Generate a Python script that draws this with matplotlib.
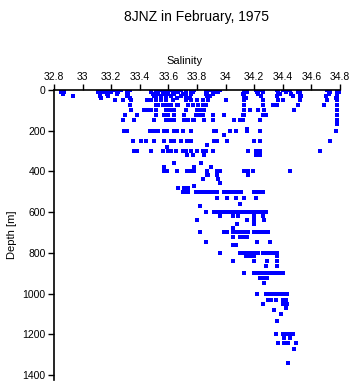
import matplotlib
matplotlib.use("Agg")
import matplotlib.pyplot as plt
import numpy as np

plt.rcParams['font.family'] = ['Liberation Sans', 'DejaVu Sans']

# depth levels [m] and the salinities observed at each level
depths = [0, 10, 20, 30, 40, 50, 75, 100, 125, 150, 170, 190, 200, 220, 250,
          270, 280, 300, 320, 360, 380, 400, 420, 440, 455, 470, 480, 500,
          530, 560, 570, 600, 620, 640, 660, 680, 700, 720, 745, 760, 800,
          815, 840, 865, 900, 925, 950, 1000, 1030, 1050, 1070, 1080, 1100,
          1135, 1200, 1220, 1245, 1270, 1340]

salinity = [
    [32.85, 32.86, 33.11, 33.13, 33.16, 33.18, 33.23, 33.27, 33.31, 33.33, 33.48, 33.51, 33.55,
     33.58, 33.62, 33.65, 33.69, 33.76, 33.78, 33.86, 33.90, 33.93, 33.96, 34.14, 34.21, 34.24,
     34.36, 34.40, 34.45, 34.52, 34.71, 34.78],
    [32.85, 32.87, 33.11, 33.14, 33.20, 33.25, 33.31, 33.48, 33.52, 33.56, 33.59, 33.63, 33.67,
     33.72, 33.77, 33.87, 33.92, 33.95, 34.13, 34.15, 34.22, 34.26, 34.37, 34.42, 34.51, 34.73, 34.79],
    [32.86, 33.12, 33.17, 33.24, 33.32, 33.49, 33.53, 33.57, 33.60, 33.64, 33.70, 33.76, 33.86,
     33.91, 34.12, 34.23, 34.38, 34.46, 34.52, 34.72, 34.78],
    [32.93, 33.12, 33.18, 33.31, 33.50, 33.55, 33.62, 33.69, 33.72, 33.87, 33.89, 34.13, 34.25,
     34.36, 34.47, 34.53, 34.70, 34.78],
    [33.13, 33.33, 33.51, 33.58, 33.66, 33.75, 33.88, 34.14, 34.52, 34.77],
    [33.23, 33.28, 33.34, 33.45, 33.48, 33.51, 33.55, 33.58, 33.63, 33.72, 33.76, 33.80, 33.84,
     33.88, 34.00, 34.13, 34.26, 34.37, 34.40, 34.52, 34.71, 34.78],
    [33.33, 33.51, 33.53, 33.56, 33.59, 33.62, 33.66, 33.67, 33.74, 33.77, 33.81, 33.84, 33.86,
     34.13, 34.26, 34.33, 34.36, 34.51, 34.69, 34.78],
    [33.34, 33.43, 33.45, 33.48, 33.51, 33.58, 33.61, 33.64, 33.72, 33.80, 33.83, 33.85, 34.13,
     34.17, 34.23, 34.27, 34.48, 34.78],
    [33.30, 33.38, 33.51, 33.57, 33.60, 33.64, 33.71, 33.79, 33.82, 33.84, 33.91, 33.99, 34.12,
     34.13, 34.26, 34.28, 34.78],
    [33.28, 33.36, 33.50, 33.58, 33.61, 33.64, 33.71, 33.74, 33.77, 33.78, 33.85, 33.91, 34.06,
     34.10, 34.12, 34.24, 34.78],
    [34.78],
    [34.15],
    [33.29, 33.31, 33.47, 33.50, 33.53, 33.57, 33.59, 33.64, 33.66, 33.70,
     33.76, 33.92, 33.93, 34.03, 34.07, 34.15, 34.24, 34.77],
    [33.99],
    [33.35, 33.41, 33.44, 33.50, 33.57, 33.62, 33.64, 33.69, 33.73, 33.76,
     33.92, 33.94, 34.01, 34.20, 34.24, 34.73],
    [33.87],
    [33.59],
    [33.36, 33.38, 33.48, 33.56, 33.60, 33.62, 33.65, 33.70, 33.72, 33.76,
     33.80, 33.84, 33.86, 33.91, 34.16, 34.21, 34.24, 34.66],
    [33.73, 33.77, 33.85, 34.21, 34.24],
    [33.64, 33.83],
    [33.57, 33.78, 33.90],
    [33.57, 33.59, 33.66, 33.73, 33.75, 33.77, 33.78, 33.87, 33.94, 33.96, 34.13, 34.16, 34.19, 34.45],
    [33.87, 33.88, 33.94, 34.16],
    [33.84, 33.95],
    [33.96],
    [33.78],
    [33.67, 33.71, 33.74],
    [33.70, 33.71, 33.74, 33.79, 33.80, 33.82, 33.84, 33.86, 33.88, 33.90, 33.92, 33.94, 33.99,
     34.01, 34.03, 34.05, 34.07, 34.09, 34.11, 34.20, 34.22, 34.24, 34.26],
    [33.94, 34.01, 34.07, 34.13, 34.21],
    [34.10],
    [33.82],
    [33.86, 33.92, 33.94, 33.96, 33.99, 34.01, 34.04, 34.06, 34.08, 34.10, 34.12, 34.14, 34.17,
     34.19, 34.22, 34.24, 34.26, 34.28],
    [33.96, 34.05, 34.09, 34.20, 34.26],
    [33.80, 34.15, 34.20, 34.27],
    [34.08, 34.20],
    [34.05],
    [33.82, 33.99, 34.01, 34.05, 34.08, 34.10, 34.12, 34.14, 34.16, 34.20, 34.22, 34.24, 34.26,
     34.28, 34.30],
    [34.05, 34.10, 34.12, 34.15],
    [33.86, 34.22, 34.31],
    [34.05, 34.07],
    [33.96, 34.10, 34.12, 34.14, 34.16, 34.18, 34.20, 34.23, 34.26, 34.28, 34.30, 34.32, 34.34, 34.36],
    [34.14, 34.17, 34.20, 34.36],
    [34.05, 34.20, 34.29, 34.36],
    [34.28, 34.36],
    [34.13, 34.20, 34.22, 34.24, 34.26, 34.28, 34.30, 34.32, 34.34, 34.36, 34.38, 34.40],
    [34.24, 34.27, 34.29],
    [34.27],
    [34.22, 34.28, 34.30, 34.32, 34.34, 34.36, 34.38, 34.40, 34.42, 34.43],
    [34.30, 34.32, 34.35, 34.40, 34.42],
    [34.26, 34.40, 34.43],
    [34.42],
    [34.34],
    [34.39],
    [34.36],
    [34.35, 34.40, 34.42, 34.44, 34.45, 34.47],
    [34.41, 34.45],
    [34.37, 34.41, 34.44, 34.49],
    [34.48],
    [34.44],
]

x_ticks = [32.8, 33, 33.2, 33.4, 33.6, 33.8, 34, 34.2, 34.4, 34.6, 34.8]
y_ticks = [0, 200, 400, 600, 800, 1000, 1200, 1400]

xs = []
ys = []
for d, sal in zip(depths, salinity):
    for s in sal:
        xs.append(s)
        ys.append(d)

fig = plt.figure(figsize=(3.53, 3.84), dpi=100)
ax = fig.add_axes([0.153, 0.010, 0.810, 0.756])

ax.plot(xs, ys, linestyle='none', marker='s', markersize=2.5,
        markeredgewidth=0, color='#0000ff')

ax.set_xlim(32.8, 34.8)
ax.set_ylim(1425, 0)
ax.xaxis.tick_top()
ax.xaxis.set_label_position('top')
ax.set_xticks(x_ticks)
ax.set_xticklabels(['%g' % t for t in x_ticks])
ax.set_yticks(y_ticks)
ax.set_yticklabels([str(t) for t in y_ticks])
ax.tick_params(axis='both', labelsize=7.5, length=4, width=1, pad=2, color='black')

for side in ['right', 'bottom']:
    ax.spines[side].set_visible(False)
for side in ['top', 'left']:
    ax.spines[side].set_linewidth(1.2)

ax.set_xlabel('Salinity', fontsize=8, labelpad=4)
ax.xaxis.set_label_coords(0.458, 1.09)
ax.set_ylabel('Depth [m]', fontsize=8, labelpad=4)

fig.text(0.558, 0.975, '8JNZ in February, 1975', ha='center', va='top', fontsize=10)

fig.savefig('out.png', dpi=100)
